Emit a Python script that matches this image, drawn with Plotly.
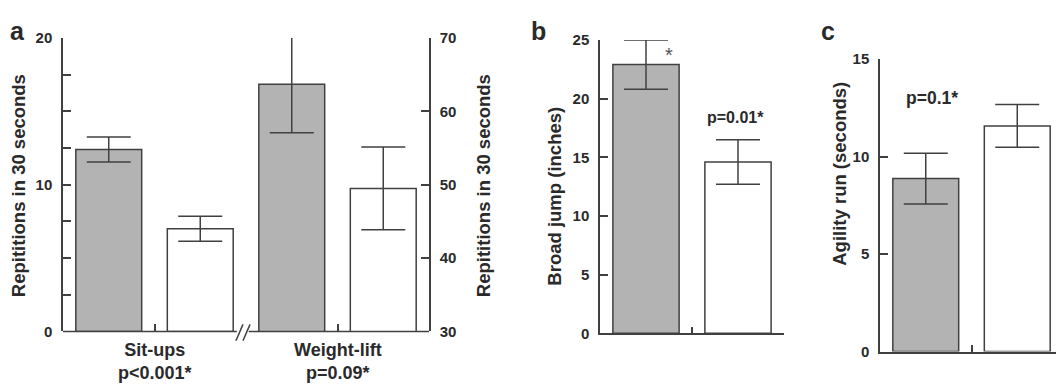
import plotly.graph_objects as go

# ---- data ----
situps_mean = [12.4, 7.0]
situps_err = [0.85, 0.85]
weight_mean = [63.7, 49.5]
weight_err = [6.6, 5.65]
broad_mean = [22.9, 14.6]
broad_err = [2.1, 1.9]
agility_mean = [8.87, 11.57]
agility_err = [1.3, 1.1]
fills = ["#b3b3b3", "#ffffff"]
left_ticks = [0, 2.5, 5, 7.5, 10, 12.5, 15, 17.5, 20]
left_ticktext = ["0", "", "", "", "10", "", "", "", "20"]
right_ticks = [30, 40, 50, 60, 70]
broad_ticks = [0, 5, 10, 15, 20, 25]
agility_ticks = [0, 5, 10, 15]
a_labels = ["Sit-ups<br>p&lt;0.001*", "Weight-lift<br>p=0.09*"]

# page has an 8px body margin: figure occupies screen (8..1064, 8..392)
OFF = 8
W, H = 1056, 384
INK = "#404040"
TXT = "#2a2a2a"
FONT = "Liberation Sans, Arial, sans-serif"


def px(x):
    return (x - OFF) / W


def py(y):
    return 1 - (y - OFF) / H


def bar(x, y, err, xa, ya):
    return go.Bar(
        x=x, y=y, xaxis=xa, yaxis=ya, width=0.72,
        marker=dict(color=fills, line=dict(color=INK, width=1.5)),
        error_y=dict(type="data", array=err, visible=True, color=INK,
                     thickness=1.5, width=22),
        showlegend=False, hoverinfo="skip",
    )


fig = go.Figure()
fig.add_trace(bar([0, 1], situps_mean, situps_err, "x", "y"))
fig.add_trace(bar([2, 3], weight_mean, weight_err, "x", "y2"))
fig.add_trace(bar([0, 1], broad_mean, broad_err, "x2", "y3"))
fig.add_trace(bar([0, 1], agility_mean, agility_err, "x3", "y4"))

tickfont = dict(family=FONT, size=15, color=TXT, weight="bold")
common_y = dict(showgrid=False, zeroline=False, showline=True, linecolor=INK,
                linewidth=1.5, ticks="inside", ticklen=8, tickwidth=1.5,
                tickcolor=INK, tickfont=tickfont, fixedrange=True,
                ticklabelstandoff=6)
common_x = dict(showgrid=False, zeroline=False, ticks="inside", ticklen=7,
                tickwidth=1.5, tickcolor=INK, showticklabels=False,
                fixedrange=True, range=[-0.5, 1.5])

fig.update_layout(
    width=W, height=H, margin=dict(l=0, r=0, t=0, b=0),
    paper_bgcolor="white", plot_bgcolor="rgba(0,0,0,0)",
    barmode="overlay", font=dict(family=FONT, color=TXT),
    xaxis=dict(**{**common_x, "range": [-0.5, 3.5]}, domain=[px(63), px(429)],
               showline=False, tickvals=[0.5, 2.5], anchor="y"),
    yaxis=dict(**common_y, domain=[py(337), py(30)], range=[0, 20],
               tickvals=left_ticks, ticktext=left_ticktext, anchor="x"),
    yaxis2=dict(**common_y, overlaying="y", side="right", range=[30, 70],
                tickvals=right_ticks, anchor="x"),
    xaxis2=dict(**common_x, domain=[px(600), px(784)], showline=True,
                linecolor=INK, linewidth=1.5, tickvals=[0.5, 1.5], anchor="y3"),
    yaxis3=dict(**common_y, domain=[py(339), py(32)], range=[0, 25],
                tickvals=broad_ticks, anchor="x2"),
    xaxis3=dict(**common_x, domain=[px(880), px(1063)], showline=True,
                linecolor=INK, linewidth=1.5, tickvals=[0.5, 1.5], anchor="y4"),
    yaxis4=dict(**common_y, domain=[py(358), py(52)], range=[0, 15],
                tickvals=agility_ticks, anchor="x3"),
)

# broken x axis of panel a
line = dict(color=INK, width=1.5)
fig.add_shape(type="line", xref="x", yref="y domain", x0=-0.5, x1=1.40,
              y0=0, y1=0, line=line)
fig.add_shape(type="line", xref="x", yref="y domain", x0=1.53, x1=3.5,
              y0=0, y1=0, line=line)
fig.add_shape(type="line", xref="x", yref="y domain", x0=1.39, x1=1.467,
              y0=-0.032, y1=0.024, line=line)
fig.add_shape(type="line", xref="x", yref="y domain", x0=1.467, x1=1.544,
              y0=-0.032, y1=0.024, line=line)


def ann(text, x, y, size, xref="paper", angle=0, weight="bold", color=TXT,
        yanchor="middle"):
    fig.add_annotation(text=text, x=x, y=y, xref=xref, yref="paper",
                       showarrow=False, textangle=angle, xanchor="center",
                       yanchor=yanchor, borderpad=0, borderwidth=0,
                       font=dict(family=FONT, size=size, color=color,
                                 weight=weight))


ann("a", px(17), 1, 25, yanchor="top")
ann("b", px(538), 1, 25, yanchor="top")
ann("c", px(828), 1, 25, yanchor="top")
for i, lab in enumerate(a_labels):
    ann(lab, [0.5, 2.5][i], py(346), 18, xref="x", yanchor="top")
ann("Repititions in 30 seconds", px(18), py(185), 18.5, angle=-90)
ann("Repititions in 30 seconds", px(483), py(185), 18.5, angle=-90)
ann("Broad jump (inches)", px(555), py(196), 18.5, angle=-90)
ann("Agility run (seconds)", px(840), py(172), 18.5, angle=-90)
ann("*", px(669), py(48), 20, weight="normal", color="#555555")
ann("p=0.01*", px(735), py(113), 16)
ann("p=0.1*", px(932), py(93), 17.5)

fig.write_html("out.html", config={"displayModeBar": False})
